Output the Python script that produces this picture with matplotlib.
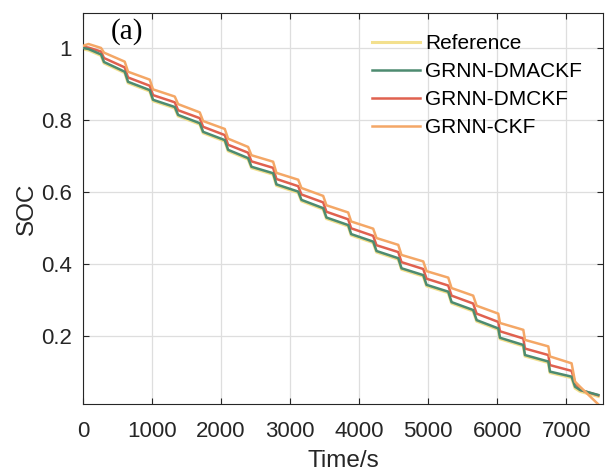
import matplotlib
matplotlib.use("Agg")
import matplotlib.pyplot as plt

# ---- data ----
time_s = [0, 80, 261, 304, 604, 652, 966, 1014, 1329, 1377,
          1691, 1739, 2053, 2101, 2391, 2439, 2753, 2801, 3116, 3163,
          3478, 3525, 3840, 3883, 4202, 4250, 4565, 4612, 4927, 4975,
          5289, 5337, 5650, 5700, 6013, 6038, 6376, 6400, 6738, 6762,
          7075, 7125, 7197, 7462]

soc_reference = [0.997, 0.994, 0.979, 0.958, 0.931, 0.903, 0.880, 0.853, 0.833, 0.811,
                 0.788, 0.764, 0.741, 0.714, 0.691, 0.667, 0.649, 0.618, 0.598, 0.575,
                 0.552, 0.526, 0.505, 0.480, 0.459, 0.433, 0.413, 0.385, 0.366, 0.339,
                 0.320, 0.291, 0.269, 0.241, 0.218, 0.192, 0.172, 0.144, 0.126, 0.098,
                 0.084, 0.055, 0.046, 0.032]

soc_dmackf = [1.000, 0.997, 0.982, 0.961, 0.934, 0.906, 0.883, 0.856, 0.836, 0.814,
              0.791, 0.767, 0.744, 0.717, 0.694, 0.670, 0.652, 0.621, 0.601, 0.578,
              0.555, 0.529, 0.508, 0.483, 0.462, 0.436, 0.416, 0.388, 0.369, 0.342,
              0.323, 0.294, 0.272, 0.244, 0.221, 0.195, 0.175, 0.147, 0.129, 0.101,
              0.087, 0.059, 0.050, 0.036]

soc_dmckf = [1.003, 1.001, 0.990, 0.972, 0.946, 0.918, 0.895, 0.869, 0.849, 0.827,
             0.805, 0.781, 0.758, 0.731, 0.709, 0.685, 0.667, 0.636, 0.616, 0.593,
             0.571, 0.545, 0.524, 0.499, 0.478, 0.452, 0.433, 0.405, 0.386, 0.359,
             0.340, 0.312, 0.290, 0.262, 0.239, 0.213, 0.193, 0.165, 0.147, 0.119,
             0.103, 0.071, 0.050, 0.035]

soc_ckf = [1.006, 1.011, 1.000, 0.987, 0.962, 0.934, 0.912, 0.885, 0.865, 0.844,
           0.821, 0.797, 0.775, 0.748, 0.725, 0.702, 0.684, 0.653, 0.634, 0.611,
           0.589, 0.563, 0.543, 0.518, 0.498, 0.472, 0.453, 0.425, 0.407, 0.380,
           0.362, 0.333, 0.312, 0.284, 0.262, 0.236, 0.217, 0.189, 0.171, 0.143,
           0.124, 0.073, 0.059, 0.010]

series_labels = ["Reference", "GRNN-DMACKF", "GRNN-DMCKF", "GRNN-CKF"]
series_colors = ["#F3E08E", "#4D8B70", "#E0614F", "#F4A766"]
x_ticks = [0, 1000, 2000, 3000, 4000, 5000, 6000, 7000]
y_ticks = [0.2, 0.4, 0.6, 0.8, 1.0]
y_ticklabels = ["0.2", "0.4", "0.6", "0.8", "1"]

plt.rcParams['font.family'] = ['Liberation Sans', 'DejaVu Sans']

fig = plt.figure(figsize=(6.05, 4.73), dpi=100)
ax = fig.add_axes([0.1372, 0.1459, 0.8595, 0.8273])

lw = 1.8
l_ref, = ax.plot(time_s, soc_reference, color=series_colors[0], lw=lw + 0.4, zorder=2)
l_red, = ax.plot(time_s, soc_dmckf, color=series_colors[2], lw=lw, zorder=3)
l_grn, = ax.plot(time_s, soc_dmackf, color=series_colors[1], lw=lw, zorder=4)
l_org, = ax.plot(time_s, soc_ckf, color=series_colors[3], lw=lw, zorder=5)

ax.set_xlim(0, 7530)
ax.set_ylim(0.011, 1.098)
ax.set_xticks(x_ticks)
ax.set_yticks(y_ticks)
ax.set_yticklabels(y_ticklabels)

ax.grid(True, color="#dedede", lw=0.9)
ax.set_axisbelow(True)
for s in ax.spines.values():
    s.set_color("#262626")
    s.set_linewidth(0.8)
ax.tick_params(direction="in", length=4, width=0.8, top=True, right=True,
               colors="#262626", labelsize=16)
ax.tick_params(axis="x", pad=12)
ax.tick_params(axis="y", pad=8)

ax.set_xlabel("Time/s", fontsize=17.5, color="#262626", labelpad=6)
ax.set_ylabel("SOC", fontsize=17.5, color="#262626", labelpad=2)

ax.text(640, 1.046, "(a)", family=["Liberation Serif", "DejaVu Serif"], fontsize=21,
        ha="center", va="center", color="black")

leg = ax.legend([l_ref, l_grn, l_red, l_org], series_labels, loc="upper left",
                bbox_to_anchor=(0.556, 0.945), frameon=False, fontsize=15,
                handlelength=2.3, handletextpad=0.25, labelspacing=0.43,
                borderpad=0, borderaxespad=0)
for t in leg.get_texts():
    t.set_color("black")

fig.savefig("out.png", dpi=100)
